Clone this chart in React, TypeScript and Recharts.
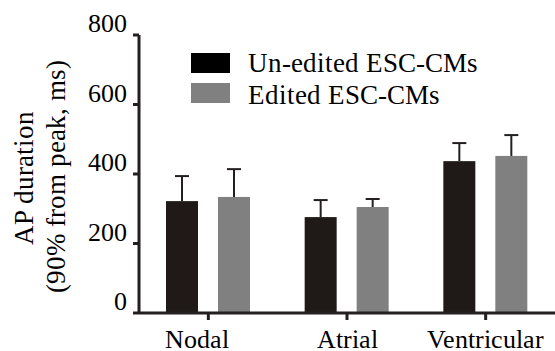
import { BarChart, Bar, XAxis, YAxis, Legend } from 'recharts';

const categories = ['Nodal', 'Atrial', 'Ventricular'];
const uneditedMean = [322, 276, 437];
const uneditedErr = [72, 49, 52];
const editedMean = [334, 305, 452];
const editedErr = [80, 23, 60];
const yTicks = [0, 200, 400, 600, 800];
const seriesNames = ['Un-edited ESC-CMs', 'Edited ESC-CMs'];

const data = categories.map((name, i) => ({
  name,
  unedited: uneditedMean[i],
  uneditedErr: uneditedErr[i],
  edited: editedMean[i],
  editedErr: editedErr[i],
}));

const INK = '#231f20';
const BLACK = '#1f1a17';
const GREY = '#808080';
const SERIF = 'RefSerif, Liberation Serif, Times New Roman, serif';

// pin the serif face to the installed Liberation Serif file
const fontCss = `@font-face { font-family: 'RefSerif'; src: local('Liberation Serif'), local('LiberationSerif'), local('LiberationSerif-Regular'); font-weight: 400; font-style: normal; }
.chart-root text { font-family: 'RefSerif', 'Liberation Serif', serif !important; font-weight: 400; }`;

// bar with an upward-only error whisker, scaled from the bar's own pixel height
function barWithError(meanKey: string, errKey: string) {
  return (props: any) => {
    const { x, y, width, height, fill, payload } = props;
    const perUnit = height / payload[meanKey];
    const top = y - payload[errKey] * perUnit;
    const cx = x + width / 2;
    return (
      <g>
        <rect x={x} y={y} width={width} height={height} fill={fill} />
        <line x1={cx} y1={y} x2={cx} y2={top} stroke={INK} strokeWidth={2} />
        <line x1={cx - 7} y1={top} x2={cx + 7} y2={top} stroke={INK} strokeWidth={2} />
      </g>
    );
  };
}

function YTick({ x, y, payload }: any) {
  return (
    <text x={x} y={y - 12} dy="0.355em" textAnchor="end" fontFamily={SERIF} fontSize={26} fill="#000">
      {payload.value}
    </text>
  );
}

// the "Nodal" label sits a little left of its tick in the original
const xLabelShift = [-11, 0, 0];

function XTick({ x, y, payload, index }: any) {
  return (
    <text x={x + (xLabelShift[index] || 0)} y={y} dy="0.71em" textAnchor="middle" fontFamily={SERIF} fontSize={26} fill="#000">
      {payload.value}
    </text>
  );
}

function LegendBox() {
  return (
    <svg width={330} height={70} style={{ display: 'block' }}>
      {seriesNames.map((s, i) => (
        <g key={s}>
          <rect x={0} y={i * 30} width={39} height={20} fill={i === 0 ? '#000' : GREY} />
          <text x={57} y={19 + i * 32} fontFamily={SERIF} fontSize={27} fill="#000">
            {s}
          </text>
        </g>
      ))}
    </svg>
  );
}

function YLabel() {
  return (
    <g fill="#000">
      <text transform="translate(33,178) rotate(-90)" textAnchor="middle" fontFamily={SERIF} fontSize={27}>
        AP duration
      </text>
      <text transform="translate(65,176) rotate(-90)" textAnchor="middle" fontFamily={SERIF} fontSize={27}>
        (90% from peak, ms)
      </text>
    </g>
  );
}

export default function App() {
  return (
    <div className="chart-root" style={{ position: 'absolute', left: 0, top: 0, background: '#fff' }}>
      <style>{fontCss}</style>
      <BarChart
        width={555}
        height={351}
        data={data}
        margin={{ top: 35, right: 0, left: 0, bottom: 0 }}
        barSize={32}
        barGap={20}
      >
        <XAxis
          dataKey="name"
          height={38}
          axisLine={{ stroke: INK, strokeWidth: 3 }}
          tickLine={{ stroke: INK, strokeWidth: 3 }}
          tickSize={7}
          tickMargin={10}
          tick={<XTick />}
          interval={0}
        />
        <YAxis
          width={139}
          domain={[0, 800]}
          ticks={yTicks}
          axisLine={{ stroke: INK, strokeWidth: 3 }}
          tickLine={{ stroke: INK, strokeWidth: 3 }}
          tickSize={6}
          tickMargin={6}
          tick={<YTick />}
          label={{ content: () => <YLabel /> }}
        />
        <Legend
          layout="vertical"
          align="center"
          verticalAlign="middle"
          wrapperStyle={{ left: 191, top: 53, width: 330, height: 70 }}
          content={() => <LegendBox />}
        />
        <Bar dataKey="unedited" name={seriesNames[0]} fill={BLACK} isAnimationActive={false} shape={barWithError('unedited', 'uneditedErr')} />
        <Bar dataKey="edited" name={seriesNames[1]} fill={GREY} isAnimationActive={false} shape={barWithError('edited', 'editedErr')} />
      </BarChart>
    </div>
  );
}
